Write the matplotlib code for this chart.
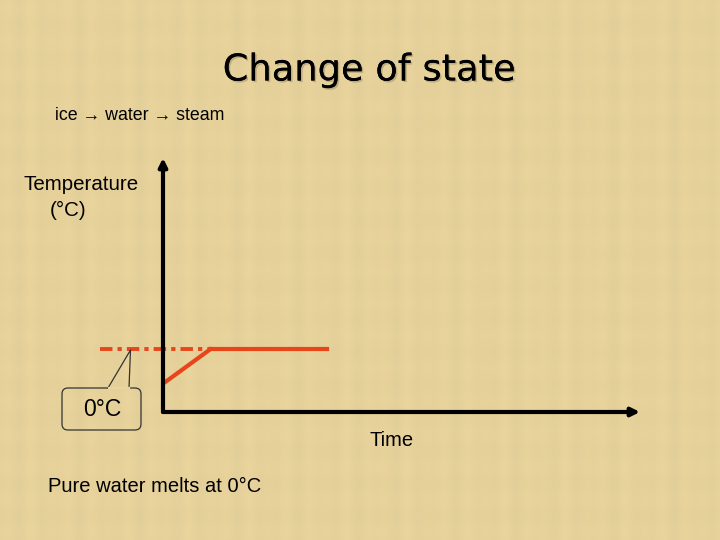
import numpy as np
import matplotlib.pyplot as plt
from matplotlib.patches import FancyBboxPatch
import matplotlib.patheffects as pe

# data (time in arbitrary units, temperature in degC)
heat_time = [0.04, 0.99]
heat_temp = [-10, 0]
melt_time = [0.99, 3.44]
melt_temp = [0, 0]
ref_time = [-1.32, 0.99]
ref_temp = [0, 0]

title = "Change of state"
subtitle = "ice \u2192 water \u2192 steam"
caption = "Pure water melts at 0\u00b0C"

bg = "#e9d59e"
red = "#e8461a"

fig = plt.figure(figsize=(7.2, 5.4), dpi=100)
fig.patch.set_facecolor(bg)

# faint paper texture (deterministic stripes)
tex = fig.add_axes([0, 0, 1, 1], zorder=0)
xx = np.linspace(0, 60, 720)
yy = np.linspace(0, 45, 540)
X, Y = np.meshgrid(xx, yy)
pattern = 0.6 * np.sin(X * 3.1) * np.sin(X * 0.7) + 0.2 * np.sin(Y * 2.3)
tex.imshow(pattern, cmap="copper", alpha=0.035, aspect="auto", extent=[0, 1, 0, 1])
tex.set_axis_off()

ax = fig.add_axes([163 / 720, 1 - 412 / 540, 477 / 720, 254 / 540], zorder=1)
ax.set_facecolor("none")
ax.set_xlim(0, 10)
ax.set_ylim(-19, 58)
for s in ax.spines.values():
    s.set_visible(False)
ax.set_xticks([])
ax.set_yticks([])

# axes with arrow heads
ax.annotate("", xy=(10, -19), xytext=(0, -19), xycoords="data",
            arrowprops=dict(arrowstyle="-|>", lw=3, color="black",
                            mutation_scale=12, shrinkA=0, shrinkB=0),
            annotation_clip=False)
ax.annotate("", xy=(0, 58), xytext=(0, -19), xycoords="data",
            arrowprops=dict(arrowstyle="-|>", lw=3, color="black",
                            mutation_scale=12, shrinkA=0, shrinkB=0),
            annotation_clip=False)

ax.plot(ref_time, ref_temp, color=red, lw=2.8, ls=(0, (3.2, 1.3, 1.1, 1.3)),
        clip_on=False, solid_capstyle="butt", dash_capstyle="butt")
ax.plot(heat_time, heat_temp, color=red, lw=3, clip_on=False)
ax.plot(melt_time, melt_temp, color=red, lw=3, clip_on=False)

# slide text
fig.text(369 / 720, 1 - 70 / 540, title, fontsize=26.5, family="DejaVu Sans",
         ha="center", va="center", color="black",
         path_effects=[pe.withSimplePatchShadow(offset=(1.2, -1.2), shadow_rgbFace="#9a8a60", alpha=0.5),
                       pe.Normal()])
fig.text(55 / 720, 1 - 115 / 540, subtitle, fontsize=12.8, family="Liberation Sans",
         ha="left", va="center")
fig.text(24 / 720, 1 - 184 / 540, "Temperature", fontsize=14.8, family="Liberation Sans",
         ha="left", va="center")
fig.text(50 / 720, 1 - 210 / 540, "(\u00b0C)", fontsize=14.8, family="Liberation Sans",
         ha="left", va="center")
fig.text(370 / 720, 1 - 441 / 540, "Time", fontsize=14.5, family="Liberation Sans",
         ha="left", va="center")
fig.text(48 / 720, 1 - 487 / 540, caption, fontsize=14.5, family="Liberation Sans",
         ha="left", va="center")

# callout box for 0 degC
ov = fig.add_axes([0, 0, 1, 1], zorder=2)
ov.set_xlim(0, 720)
ov.set_ylim(540, 0)
ov.set_axis_off()
box = FancyBboxPatch((62, 388), 79, 42, boxstyle="round,pad=0,rounding_size=6",
                     fc="none", ec="#333333", lw=0.9)
ov.add_patch(box)
ov.plot([108, 130.5, 129], [388, 350, 388], color="#333333", lw=0.9)
ov.plot([108.5, 128.5], [388, 388], color=bg, lw=1.6)
ov.text(102, 410, "0\u00b0C", fontsize=16.5, family="Liberation Sans", ha="center", va="center")

fig.savefig("out.png", dpi=100, facecolor=bg)
